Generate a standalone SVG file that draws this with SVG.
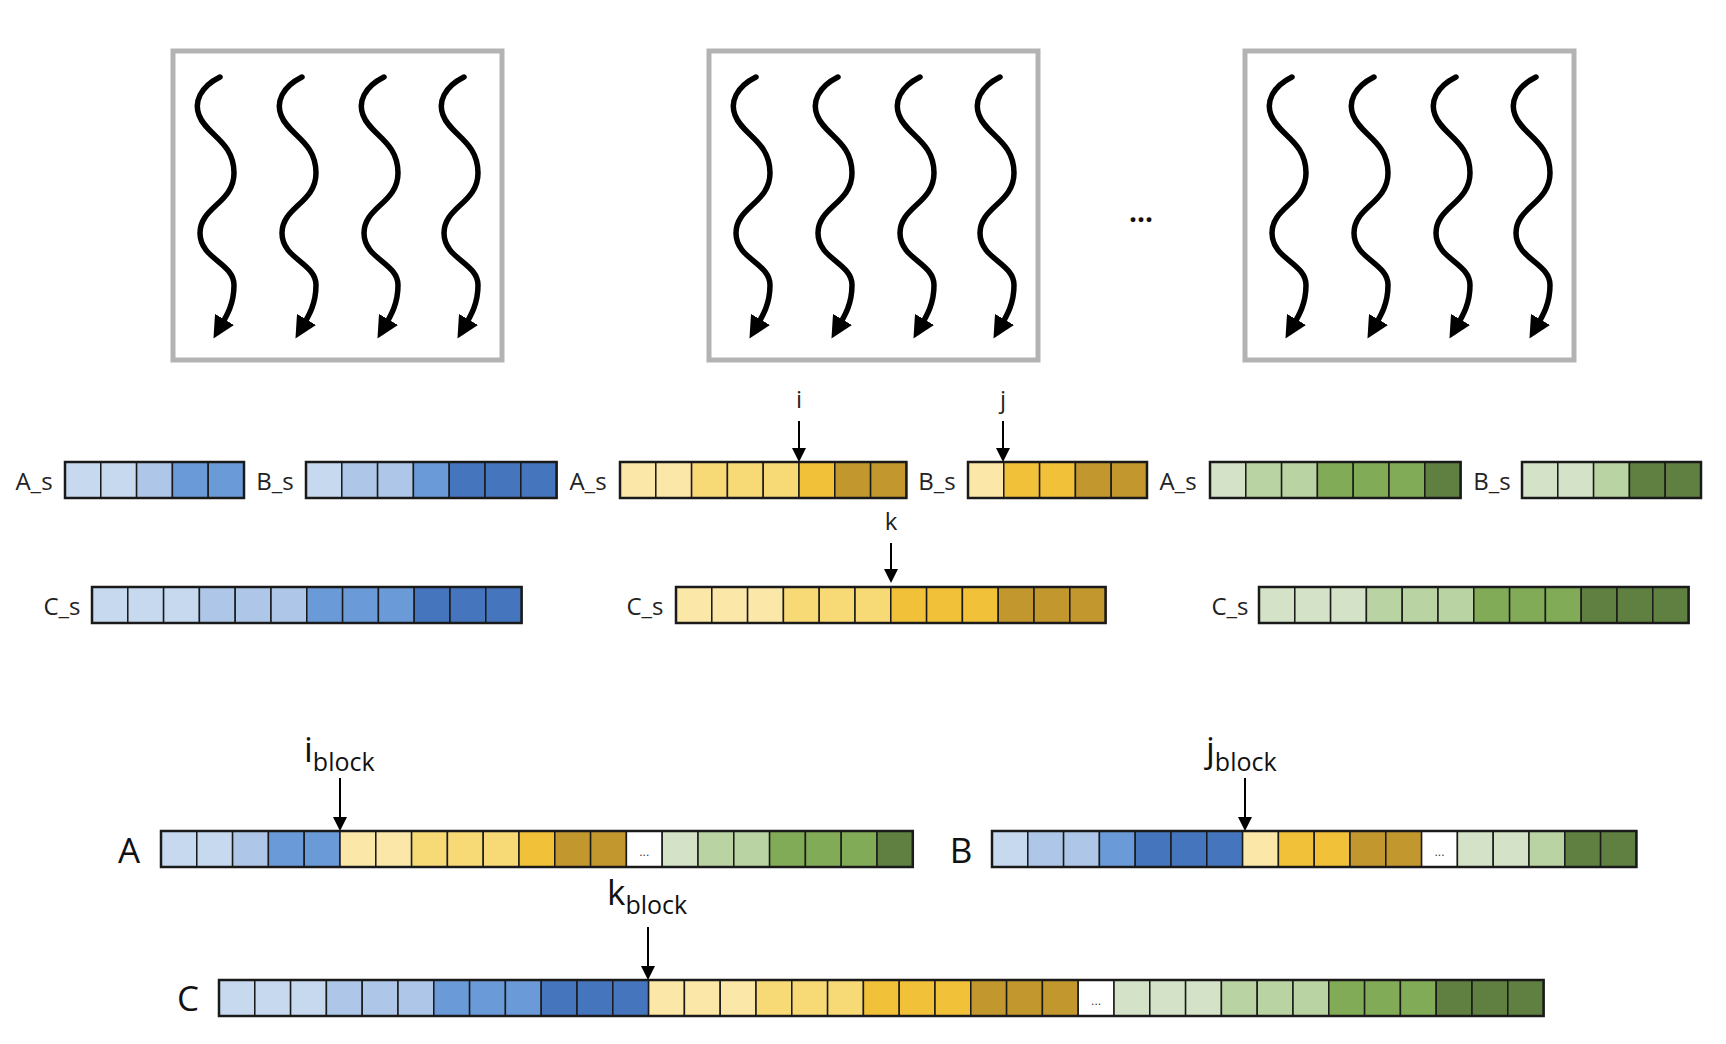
<svg xmlns="http://www.w3.org/2000/svg" xmlns:xlink="http://www.w3.org/1999/xlink" width="1726" height="1044" viewBox="0 0 1726 1044">
<style>
.box{fill:#fff;stroke:#b3b3b3;stroke-width:5}
.sq{fill:none;stroke:#000;stroke-width:5.5;stroke-linecap:round;marker-end:url(#ah)}
rect.c{stroke:#1a1a1a;stroke-width:1.5;height:36px}
.o{fill:none;stroke:#1a1a1a;stroke-width:2.5}
.b1{fill:#c7d9ef}.b2{fill:#aec7e8}.b3{fill:#6a9bd8}.b4{fill:#4576bd}
.y1{fill:#fbe7a8}.y2{fill:#f7d976}.y3{fill:#f2c13a}.y4{fill:#c2982e}
.g1{fill:#d4e3c7}.g2{fill:#b9d3a2}.g3{fill:#82ab57}.g4{fill:#5f8040}.w{fill:#fff}
.lab{font-family:"Open Sans","DejaVu Sans",sans-serif;font-size:24px;fill:#222}
.big{font-family:"Open Sans","DejaVu Sans",sans-serif;font-size:35px;fill:#111}
.sub{font-size:25px}
.dots{font-family:"Liberation Sans",sans-serif;font-size:12px;fill:#333;text-anchor:middle}
.ar{stroke:#000;stroke-width:2;marker-end:url(#ah2)}
</style>
<defs>
<marker id="ah" markerWidth="4" markerHeight="4" refX="2" refY="2" orient="auto" markerUnits="strokeWidth"><path d="M0,0 L4,2 L0,4 z" fill="#000"/></marker>
<marker id="ah2" markerWidth="7" markerHeight="7" refX="6" refY="3.5" orient="auto" markerUnits="strokeWidth"><path d="M0,0 L7,3.5 L0,7 z" fill="#000"/></marker>
<path id="sq" class="sq" d="M0,0 C-20,10 -26,25 -21,38 C-14,58 14,64 14,96 C14,126 -20,130 -20,156 C-20,182 14,186 14,208 C14,228 6,240 -1,252"/>
</defs>
<rect width="1726" height="1044" fill="#fff"/>

<g id="block1">
<rect class="box" x="173" y="51" width="329" height="309"/>
<use xlink:href="#sq" x="220" y="77"/><use xlink:href="#sq" x="302" y="77"/><use xlink:href="#sq" x="384" y="77"/><use xlink:href="#sq" x="464" y="77"/>
</g>
<g id="block2">
<rect class="box" x="709" y="51" width="329" height="309"/>
<use xlink:href="#sq" x="756" y="77"/><use xlink:href="#sq" x="838" y="77"/><use xlink:href="#sq" x="920" y="77"/><use xlink:href="#sq" x="1000" y="77"/>
</g>
<g id="block3">
<rect class="box" x="1245" y="51" width="329" height="309"/>
<use xlink:href="#sq" x="1292" y="77"/><use xlink:href="#sq" x="1374" y="77"/><use xlink:href="#sq" x="1456" y="77"/><use xlink:href="#sq" x="1536" y="77"/>
</g>
<text x="1141" y="222" class="big" text-anchor="middle" style="font-size:28px;font-weight:bold">...</text>

<g id="As1"><text class="lab" x="34" y="490" text-anchor="middle">A_s</text>
<g transform="translate(65,462)"><rect class="c b1" x="0" width="35.8"/><rect class="c b1" x="35.8" width="35.8"/><rect class="c b2" x="71.6" width="35.8"/><rect class="c b3" x="107.4" width="35.8"/><rect class="c b3" x="143.2" width="35.8"/><rect class="o" width="179" height="36"/></g></g>
<g id="Bs1"><text class="lab" x="275" y="490" text-anchor="middle">B_s</text>
<g transform="translate(306,462)"><rect class="c b1" x="0" width="35.8"/><rect class="c b2" x="35.8" width="35.8"/><rect class="c b2" x="71.6" width="35.8"/><rect class="c b3" x="107.4" width="35.8"/><rect class="c b4" x="143.2" width="35.8"/><rect class="c b4" x="179" width="35.8"/><rect class="c b4" x="214.8" width="35.8"/><rect class="o" width="250.6" height="36"/></g></g>
<g id="As2"><text class="lab" x="588" y="490" text-anchor="middle">A_s</text>
<g transform="translate(620,462)"><rect class="c y1" x="0" width="35.8"/><rect class="c y1" x="35.8" width="35.8"/><rect class="c y2" x="71.6" width="35.8"/><rect class="c y2" x="107.4" width="35.8"/><rect class="c y2" x="143.2" width="35.8"/><rect class="c y3" x="179" width="35.8"/><rect class="c y4" x="214.8" width="35.8"/><rect class="c y4" x="250.6" width="35.8"/><rect class="o" width="286.4" height="36"/></g></g>
<g id="Bs2"><text class="lab" x="937" y="490" text-anchor="middle">B_s</text>
<g transform="translate(968,462)"><rect class="c y1" x="0" width="35.8"/><rect class="c y3" x="35.8" width="35.8"/><rect class="c y3" x="71.6" width="35.8"/><rect class="c y4" x="107.4" width="35.8"/><rect class="c y4" x="143.2" width="35.8"/><rect class="o" width="179" height="36"/></g></g>
<g id="As3"><text class="lab" x="1178" y="490" text-anchor="middle">A_s</text>
<g transform="translate(1210,462)"><rect class="c g1" x="0" width="35.8"/><rect class="c g2" x="35.8" width="35.8"/><rect class="c g2" x="71.6" width="35.8"/><rect class="c g3" x="107.4" width="35.8"/><rect class="c g3" x="143.2" width="35.8"/><rect class="c g3" x="179" width="35.8"/><rect class="c g4" x="214.8" width="35.8"/><rect class="o" width="250.6" height="36"/></g></g>
<g id="Bs3"><text class="lab" x="1492" y="490" text-anchor="middle">B_s</text>
<g transform="translate(1522,462)"><rect class="c g1" x="0" width="35.8"/><rect class="c g1" x="35.8" width="35.8"/><rect class="c g2" x="71.6" width="35.8"/><rect class="c g4" x="107.4" width="35.8"/><rect class="c g4" x="143.2" width="35.8"/><rect class="o" width="179" height="36"/></g></g>

<g id="Cs1"><text class="lab" x="62" y="615" text-anchor="middle">C_s</text>
<g transform="translate(92,587)"><rect class="c b1" x="0" width="35.8"/><rect class="c b1" x="35.8" width="35.8"/><rect class="c b1" x="71.6" width="35.8"/><rect class="c b2" x="107.4" width="35.8"/><rect class="c b2" x="143.2" width="35.8"/><rect class="c b2" x="179" width="35.8"/><rect class="c b3" x="214.8" width="35.8"/><rect class="c b3" x="250.6" width="35.8"/><rect class="c b3" x="286.4" width="35.8"/><rect class="c b4" x="322.2" width="35.8"/><rect class="c b4" x="358" width="35.8"/><rect class="c b4" x="393.8" width="35.8"/><rect class="o" width="429.6" height="36"/></g></g>
<g id="Cs2"><text class="lab" x="645" y="615" text-anchor="middle">C_s</text>
<g transform="translate(676,587)"><rect class="c y1" x="0" width="35.8"/><rect class="c y1" x="35.8" width="35.8"/><rect class="c y1" x="71.6" width="35.8"/><rect class="c y2" x="107.4" width="35.8"/><rect class="c y2" x="143.2" width="35.8"/><rect class="c y2" x="179" width="35.8"/><rect class="c y3" x="214.8" width="35.8"/><rect class="c y3" x="250.6" width="35.8"/><rect class="c y3" x="286.4" width="35.8"/><rect class="c y4" x="322.2" width="35.8"/><rect class="c y4" x="358" width="35.8"/><rect class="c y4" x="393.8" width="35.8"/><rect class="o" width="429.6" height="36"/></g></g>
<g id="Cs3"><text class="lab" x="1230" y="615" text-anchor="middle">C_s</text>
<g transform="translate(1259,587)"><rect class="c g1" x="0" width="35.8"/><rect class="c g1" x="35.8" width="35.8"/><rect class="c g1" x="71.6" width="35.8"/><rect class="c g2" x="107.4" width="35.8"/><rect class="c g2" x="143.2" width="35.8"/><rect class="c g2" x="179" width="35.8"/><rect class="c g3" x="214.8" width="35.8"/><rect class="c g3" x="250.6" width="35.8"/><rect class="c g3" x="286.4" width="35.8"/><rect class="c g4" x="322.2" width="35.8"/><rect class="c g4" x="358" width="35.8"/><rect class="c g4" x="393.8" width="35.8"/><rect class="o" width="429.6" height="36"/></g></g>

<g id="A"><text class="big" x="129" y="863" text-anchor="middle">A</text>
<g transform="translate(161,831)">
<rect class="c b1" x="0" width="35.8"/><rect class="c b1" x="35.8" width="35.8"/><rect class="c b2" x="71.6" width="35.8"/><rect class="c b3" x="107.4" width="35.8"/><rect class="c b3" x="143.2" width="35.8"/>
<rect class="c y1" x="179" width="35.8"/><rect class="c y1" x="214.8" width="35.8"/><rect class="c y2" x="250.6" width="35.8"/><rect class="c y2" x="286.4" width="35.8"/><rect class="c y2" x="322.2" width="35.8"/><rect class="c y3" x="358" width="35.8"/><rect class="c y4" x="393.8" width="35.8"/><rect class="c y4" x="429.6" width="35.8"/>
<rect class="c w" x="465.4" width="35.8"/><text class="dots" x="483.3" y="25">...</text>
<rect class="c g1" x="501.2" width="35.8"/><rect class="c g2" x="537" width="35.8"/><rect class="c g2" x="572.8" width="35.8"/><rect class="c g3" x="608.6" width="35.8"/><rect class="c g3" x="644.4" width="35.8"/><rect class="c g3" x="680.2" width="35.8"/><rect class="c g4" x="716" width="35.8"/>
<rect class="o" width="751.8" height="36"/></g></g>

<g id="B"><text class="big" x="961" y="863" text-anchor="middle">B</text>
<g transform="translate(992,831)">
<rect class="c b1" x="0" width="35.8"/><rect class="c b2" x="35.8" width="35.8"/><rect class="c b2" x="71.6" width="35.8"/><rect class="c b3" x="107.4" width="35.8"/><rect class="c b4" x="143.2" width="35.8"/><rect class="c b4" x="179" width="35.8"/><rect class="c b4" x="214.8" width="35.8"/>
<rect class="c y1" x="250.6" width="35.8"/><rect class="c y3" x="286.4" width="35.8"/><rect class="c y3" x="322.2" width="35.8"/><rect class="c y4" x="358" width="35.8"/><rect class="c y4" x="393.8" width="35.8"/>
<rect class="c w" x="429.6" width="35.8"/><text class="dots" x="447.5" y="25">...</text>
<rect class="c g1" x="465.4" width="35.8"/><rect class="c g1" x="501.2" width="35.8"/><rect class="c g2" x="537" width="35.8"/><rect class="c g4" x="572.8" width="35.8"/><rect class="c g4" x="608.6" width="35.8"/>
<rect class="o" width="644.4" height="36"/></g></g>

<g id="C"><text class="big" x="188" y="1011" text-anchor="middle">C</text>
<g transform="translate(219,980)">
<rect class="c b1" x="0" width="35.8"/><rect class="c b1" x="35.8" width="35.8"/><rect class="c b1" x="71.6" width="35.8"/><rect class="c b2" x="107.4" width="35.8"/><rect class="c b2" x="143.2" width="35.8"/><rect class="c b2" x="179" width="35.8"/><rect class="c b3" x="214.8" width="35.8"/><rect class="c b3" x="250.6" width="35.8"/><rect class="c b3" x="286.4" width="35.8"/><rect class="c b4" x="322.2" width="35.8"/><rect class="c b4" x="358" width="35.8"/><rect class="c b4" x="393.8" width="35.8"/>
<rect class="c y1" x="429.6" width="35.8"/><rect class="c y1" x="465.4" width="35.8"/><rect class="c y1" x="501.2" width="35.8"/><rect class="c y2" x="537" width="35.8"/><rect class="c y2" x="572.8" width="35.8"/><rect class="c y2" x="608.6" width="35.8"/><rect class="c y3" x="644.4" width="35.8"/><rect class="c y3" x="680.2" width="35.8"/><rect class="c y3" x="716" width="35.8"/><rect class="c y4" x="751.8" width="35.8"/><rect class="c y4" x="787.6" width="35.8"/><rect class="c y4" x="823.4" width="35.8"/>
<rect class="c w" x="859.2" width="35.8"/><text class="dots" x="877.1" y="25">...</text>
<rect class="c g1" x="895" width="35.8"/><rect class="c g1" x="930.8" width="35.8"/><rect class="c g1" x="966.6" width="35.8"/><rect class="c g2" x="1002.4" width="35.8"/><rect class="c g2" x="1038.2" width="35.8"/><rect class="c g2" x="1074" width="35.8"/><rect class="c g3" x="1109.8" width="35.8"/><rect class="c g3" x="1145.6" width="35.8"/><rect class="c g3" x="1181.4" width="35.8"/><rect class="c g4" x="1217.2" width="35.8"/><rect class="c g4" x="1253" width="35.8"/><rect class="c g4" x="1288.8" width="35.8"/>
<rect class="o" width="1324.6" height="36"/></g></g>

<g id="connectors">
<text class="lab" x="799" y="408" text-anchor="middle">i</text>
<line class="ar" x1="799" y1="421" x2="799" y2="460"/>
<text class="lab" x="1003" y="408" text-anchor="middle">j</text>
<line class="ar" x1="1003" y1="421" x2="1003" y2="460"/>
<text class="lab" x="891" y="530" text-anchor="middle">k</text>
<line class="ar" x1="891" y1="543" x2="891" y2="581"/>
<text class="big" x="304" y="762">i<tspan class="sub" dy="9">block</tspan></text>
<line class="ar" x1="340" y1="778" x2="340" y2="829"/>
<text class="big" x="1206" y="762">j<tspan class="sub" dy="9">block</tspan></text>
<line class="ar" x1="1245" y1="778" x2="1245" y2="829"/>
<text class="big" x="607" y="905">k<tspan class="sub" dy="9">block</tspan></text>
<line class="ar" x1="648" y1="927" x2="648" y2="978"/>
</g>
</svg>
